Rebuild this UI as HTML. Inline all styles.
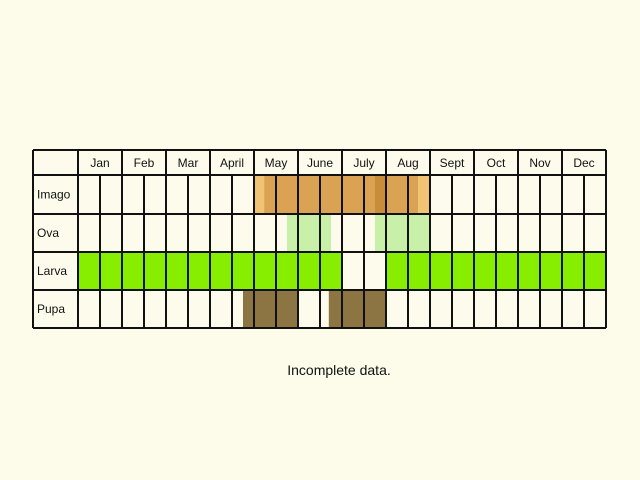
<!DOCTYPE html>
<html><head><meta charset="utf-8"><style>
body{margin:0;background:#fdfbea;}
svg{display:block;font-family:"Liberation Sans",sans-serif;}
</style></head><body>
<svg id="c" width="640" height="480"></svg>
<script>
const months=["Jan","Feb","Mar","April","May","June","July","Aug","Sept","Oct","Nov","Dec"];
const stages=["Imago","Ova","Larva","Pupa"];
const imagoLight=[[4.0,4.23],[7.73,8.0]];
const imagoMain=[[4.23,7.73]];
const imagoDark=[[6.75,7.0]];
const ovaPeriods=[[4.75,5.75],[6.75,8.0]];
const larvaPeriods=[[0,6],[7,12]];
const pupaPeriods=[[3.75,5.0],[5.7,7.0]];
const NS="http://www.w3.org/2000/svg";
const svgEl=document.getElementById('c');
const x0=78,mw=44,leftX=33,topY=150;
const rowY=[175,214,252,290,328];
function xs(m){return x0+m*mw;}
function el(t,a){const e=document.createElementNS(NS,t);for(const k in a)e.setAttribute(k,a[k]);svgEl.appendChild(e);return e;}
const bg=el('rect',{x:leftX,y:topY,width:xs(12)-leftX,height:rowY[4]-topY,fill:'#fdfbeb'});


function bars(list,row,color,name){list.forEach(p=>{const r=el('rect',{x:xs(p[0]),y:rowY[row],width:xs(p[1])-xs(p[0]),height:rowY[row+1]-rowY[row],fill:color});

});}
bars(imagoLight,0,'#f0c472','imago-period-light');
bars(imagoMain,0,'#d9a353','imago-period');
bars(imagoDark,0,'#c98d3a','imago-period-peak');
bars(ovaPeriods,1,'#c8f0a8','ova-period');
bars(larvaPeriods,2,'#88ee00','larva-period');
bars(pupaPeriods,3,'#8c7443','pupa-period');
function gline(a,b,c,d){const l=el('line',{x1:a,y1:b,x2:c,y2:d,stroke:'#111','stroke-width':2});

}
[topY].concat(rowY).forEach(y=>gline(leftX,y,xs(12),y));
gline(leftX,topY,leftX,rowY[4]);
for(let i=0;i<=12;i++)gline(xs(i),topY,xs(i),rowY[4]);
for(let i=0;i<12;i++)gline(xs(i+0.5),rowY[0],xs(i+0.5),rowY[4]);
months.forEach((m,i)=>{const t=el('text',{x:xs(i+0.5),y:167,'text-anchor':'middle','font-size':12,fill:'#111'});t.textContent=m;

});
stages.forEach((s,i)=>{const t=el('text',{x:37,y:(rowY[i]+rowY[i+1])/2+4,'font-size':12,fill:'#111'});t.textContent=s;

});
const n=el('text',{x:339,y:375,'text-anchor':'middle','font-size':14,fill:'#111'});n.textContent='Incomplete data.';


</script>
</body></html>
